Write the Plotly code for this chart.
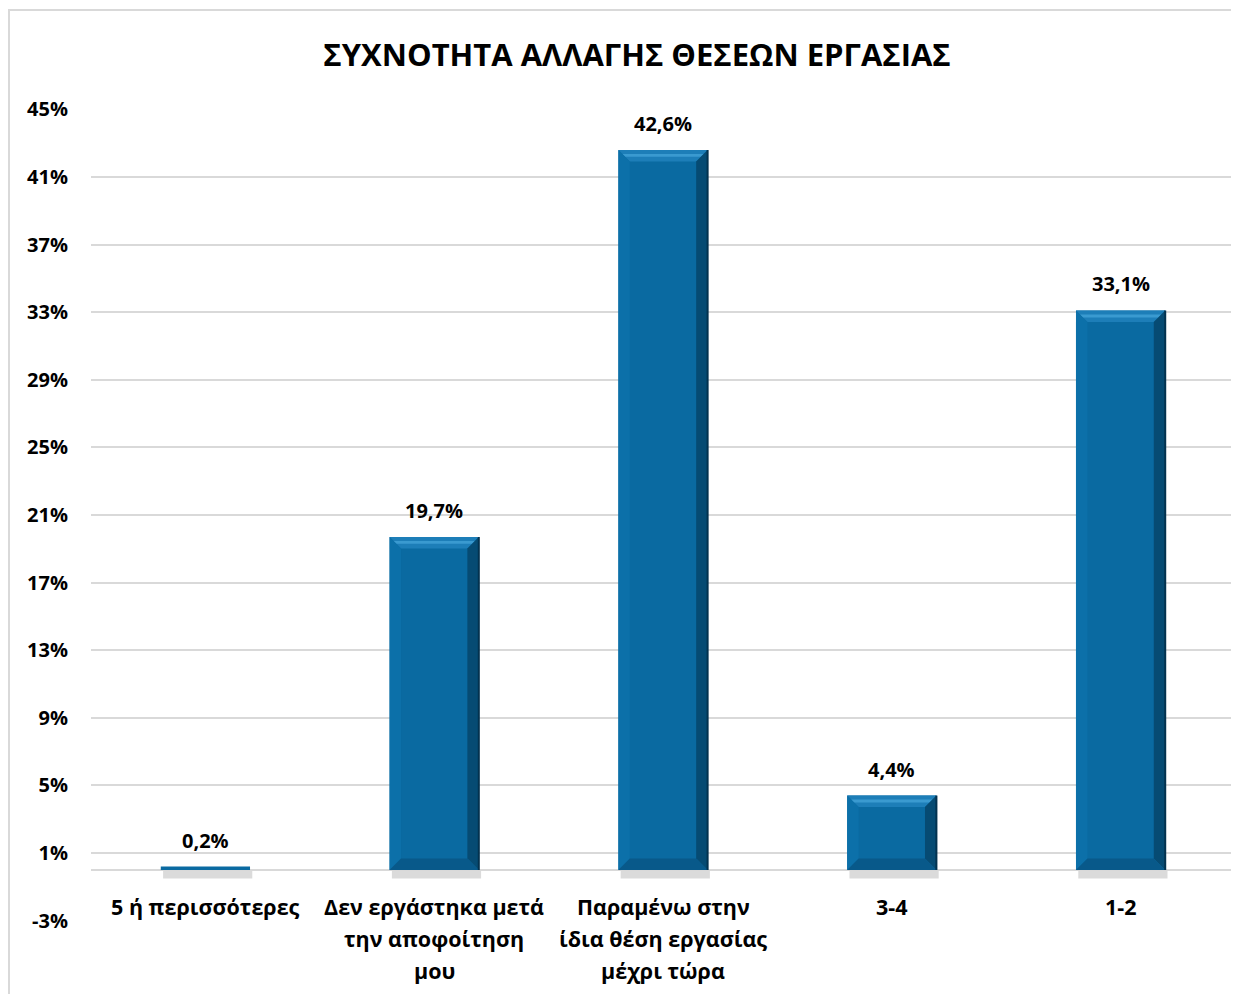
import plotly.graph_objects as go

categories = [["5 ή περισσότερες"],
              ["Δεν εργάστηκα μετά", "την αποφοίτηση", "μου"],
              ["Παραμένω στην", "ίδια θέση εργασίας", "μέχρι τώρα"],
              ["3-4"],
              ["1-2"]]
values = [0.2, 19.7, 42.6, 4.4, 33.1]
tick_values = [-3, 1, 5, 9, 13, 17, 21, 25, 29, 33, 37, 41, 45]
tick_labels = ["-3%", "1%", "5%", "9%", "13%", "17%", "21%", "25%", "29%", "33%", "37%", "41%", "45%"]
title_text = "ΣΥΧΝΟΤΗΤΑ ΑΛΛΑΓΗΣ ΘΕΣΕΩΝ ΕΡΓΑΣΙΑΣ"

FONT = "Open Sans"
BAR = "#0A6AA1"
xs = list(range(len(values)))
W = 0.39
half = W / 2

fig = go.Figure()
fig.add_trace(go.Bar(x=xs, y=values, width=W, marker=dict(color=BAR, line=dict(width=0)),
                     hoverinfo="skip"))

shapes = []
bx, byc = 0.05, 0.68
for x, h in zip(xs, values):
    by = min(byc, h / 2)
    l, r = x - half, x + half
    shapes.append(dict(type="rect", xref="x", yref="y", x0=l + 0.01, x1=r + 0.01, y0=0, y1=-0.5,
                       fillcolor="rgba(0,0,0,0.14)", line=dict(width=0), layer="below"))
    if h > 1:
        shapes.append(dict(type="path", xref="x", yref="y", layer="above", line=dict(width=0),
                           fillcolor="#1D7EB8",
                           path=f"M {l},{h} L {r},{h} L {r-bx},{h-by} L {l+bx},{h-by} Z"))
        shapes.append(dict(type="path", xref="x", yref="y", layer="above", line=dict(width=0),
                           fillcolor="#3A9AD0",
                           path=f"M {l+bx*0.35},{h-by*0.35} L {r-bx*0.35},{h-by*0.35} L {r-bx*0.6},{h-by*0.6} L {l+bx*0.6},{h-by*0.6} Z"))
        shapes.append(dict(type="path", xref="x", yref="y", layer="above", line=dict(width=0),
                           fillcolor="#0C70A9",
                           path=f"M {l},{h} L {l+bx},{h-by} L {l+bx},{by} L {l},0 Z"))
        shapes.append(dict(type="path", xref="x", yref="y", layer="above", line=dict(width=0),
                           fillcolor="#064B73",
                           path=f"M {r},{h} L {r},0 L {r-bx},{by} L {r-bx},{h-by} Z"))
        shapes.append(dict(type="path", xref="x", yref="y", layer="above", line=dict(width=0),
                           fillcolor="#08598A",
                           path=f"M {l},0 L {r},0 L {r-bx},{by} L {l+bx},{by} Z"))
        shapes.append(dict(type="line", xref="x", yref="y", layer="above", x0=r, x1=r, y0=0, y1=h,
                           line=dict(color="#03324F", width=2)))

# chart border
shapes.append(dict(type="rect", xref="paper", yref="paper", x0=-0.0717, x1=1.02, y0=-0.15, y1=1.1219,
                   line=dict(color="#D9D9D9", width=2), fillcolor="rgba(0,0,0,0)", layer="below"))

annotations = []
for x, h in zip(xs, values):
    annotations.append(dict(x=x, y=h, xref="x", yref="y", text=f"<b>{h:.1f}%</b>".replace(".", ","),
                            showarrow=False, yanchor="bottom", yshift=11,
                            font=dict(family=FONT, size=20, color="#000000")))
for x, lines in zip(xs, categories):
    for i, line in enumerate(lines):
        annotations.append(dict(x=x, y=0, xref="x", yref="y", text=f"<b>{line}</b>", showarrow=False,
                                yanchor="middle", yshift=-37 - 32 * i,
                                font=dict(family=FONT, size=21.5, color="#000000")))

fig.update_layout(
    width=1231, height=986,
    margin=dict(l=83, r=4, t=101, b=73),
    paper_bgcolor="white", plot_bgcolor="white",
    separators=",.",
    showlegend=False,
    title=dict(text=f"<b>{title_text}</b>", x=0.511, xanchor="center", xref="container",
               y=0.952, yanchor="middle", yref="container",
               font=dict(family=FONT, size=31, color="#000000")),
    xaxis=dict(range=[-0.5, 4.5], showticklabels=False, showgrid=False, zeroline=False,
               showline=False, ticks=""),
    yaxis=dict(range=[-3.02, 45.02], tickmode="array", tickvals=tick_values, ticktext=tick_labels,
               showgrid=True,
               gridcolor="#D9D9D9", gridwidth=1.5, zeroline=True, zerolinecolor="#D9D9D9",
               zerolinewidth=1.5, showline=False, ticklabelstandoff=22,
               tickfont=dict(family=FONT, size=20, color="#000000", weight="bold")),
    shapes=shapes,
    annotations=annotations,
)

fig.write_html("out.html")
